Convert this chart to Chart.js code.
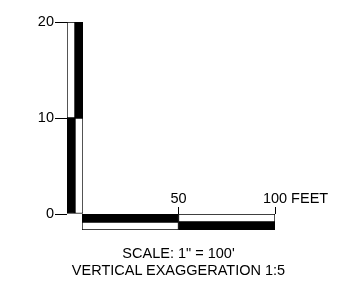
<!DOCTYPE html>
<html>
<head>
<meta charset="utf-8">
<script src="https://cdn.jsdelivr.net/npm/chart.js@4/dist/chart.umd.min.js"></script>
<style>
  html, body { margin: 0; padding: 0; background: #fff; }
  #wrap { position: relative; width: 344px; height: 287px; overflow: hidden; }
  canvas { position: absolute; left: 0; top: 0; }
  .cap { position: absolute; left: 0; width: 357px; text-align: center; font-family: "Liberation Sans", Arial, sans-serif; font-size: 14.5px; color: #000; line-height: 17px; white-space: nowrap; }
</style>
</head>
<body>
<div id="wrap">
  <canvas id="v" width="344" height="287"></canvas>
  <canvas id="h" width="344" height="287"></canvas>
  <div class="cap" id="cap1" style="top:245px"></div>
  <div class="cap" id="cap2" style="top:262px"></div>
</div>
<script>
// ---- data ----
const verticalColumns = ['left', 'right'];
const verticalLower = [[0, 10], [0, 10]];
const verticalUpper = [[10, 20], [10, 20]];
const verticalTicks = [0, 10, 20];
const verticalTickLabels = ['0', '10', '20'];

const horizontalRows = ['upper', 'lower'];
const horizontalFirst = [[0, 50], [0, 50]];
const horizontalSecond = [[50, 100], [50, 100]];
const horizontalTicks = [50, 100];
const horizontalTickLabels = ['50', '100'];
const horizontalUnit = 'FEET';

const captionLines = ['SCALE: 1" = 100\'', 'VERTICAL EXAGGERATION 1:5'];

// ---- styling ----
const FONT = '"Liberation Sans", Arial, sans-serif';
const FONT_SIZE = 14.5;
const BLACK = '#000000';
const WHITE = '#ffffff';
Chart.defaults.font.family = FONT;
Chart.defaults.color = BLACK;

document.getElementById('cap1').textContent = captionLines[0];
document.getElementById('cap2').textContent = captionLines[1];

const barStyle = {
  borderColor: BLACK,
  borderWidth: 1,
  borderSkipped: false,
  grouped: false,
  categoryPercentage: 1,
  barPercentage: 1
};

// Vertical scale bar
new Chart(document.getElementById('v'), {
  type: 'bar',
  data: {
    labels: verticalColumns,
    datasets: [
      Object.assign({ data: verticalLower, backgroundColor: [BLACK, WHITE] }, barStyle),
      Object.assign({ data: verticalUpper, backgroundColor: [WHITE, BLACK] }, barStyle)
    ]
  },
  options: {
    responsive: false,
    animation: false,
    devicePixelRatio: 1,
    layout: { padding: { left: 0, right: 261, top: 22, bottom: 73 } },
    plugins: { legend: { display: false }, tooltip: { enabled: false } },
    scales: {
      x: { display: false },
      y: {
        min: 0, max: 20,
        afterBuildTicks: (s) => { s.ticks = verticalTicks.map(v => ({ value: v })); },
        afterFit: (s) => { s.width = 67; },
        border: { display: false },
        grid: { drawOnChartArea: false, tickLength: 12, color: BLACK, tickWidth: 1 },
        ticks: {
          font: { size: FONT_SIZE }, color: BLACK, padding: 1,
          callback: (v) => verticalTickLabels[verticalTicks.indexOf(v)]
        }
      }
    }
  }
});

// Horizontal scale bar
const unitPlugin = {
  id: 'hlabels',
  afterDraw(chart) {
    const s = chart.scales.x;
    const ctx = chart.ctx;
    ctx.save();
    ctx.font = FONT_SIZE + 'px ' + FONT;
    ctx.fillStyle = BLACK;
    ctx.textBaseline = 'alphabetic';
    const y = s.bottom - 7 - 4;
    horizontalTicks.forEach((v, i) => {
      const px = s.getPixelForValue(v);
      const txt = horizontalTickLabels[i];
      ctx.textAlign = 'center';
      ctx.fillText(txt, px, y);
      if (i === horizontalTicks.length - 1) {
        const w = ctx.measureText(txt).width;
        ctx.textAlign = 'left';
        ctx.fillText(' ' + horizontalUnit, px + w / 2, y);
      }
    });
    ctx.restore();
  }
};

new Chart(document.getElementById('h'), {
  type: 'bar',
  data: {
    labels: horizontalRows,
    datasets: [
      Object.assign({ data: horizontalFirst, backgroundColor: [BLACK, WHITE] }, barStyle),
      Object.assign({ data: horizontalSecond, backgroundColor: [WHITE, BLACK] }, barStyle)
    ]
  },
  options: {
    indexAxis: 'y',
    responsive: false,
    animation: false,
    devicePixelRatio: 1,
    layout: { padding: { left: 82, right: 69, top: 0, bottom: 57 } },
    plugins: { legend: { display: false }, tooltip: { enabled: false } },
    scales: {
      y: { display: false },
      x: {
        position: 'top',
        min: 0, max: 100,
        afterBuildTicks: (s) => { s.ticks = horizontalTicks.map(v => ({ value: v })); },
        afterFit: (s) => { s.height = 214; },
        border: { display: false },
        grid: { drawOnChartArea: false, tickLength: 7, color: BLACK, tickWidth: 1 },
        ticks: { display: false }
      }
    }
  },
  plugins: [unitPlugin]
});
</script>
</body>
</html>
